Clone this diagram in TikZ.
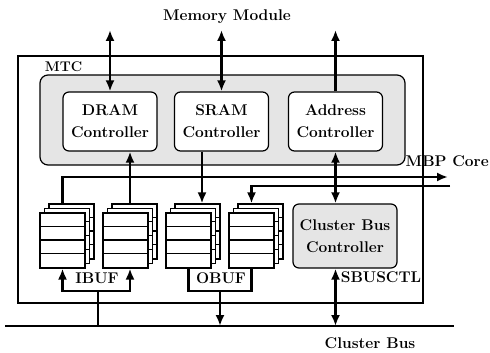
\documentclass[tikz,border=0pt]{standalone}
\usepackage{tikz}
\usetikzlibrary{positioning,arrows.meta}
\tikzstyle{ctrl}=[draw, rounded corners=6pt, line width=1.2pt, fill=white, minimum width=94pt, minimum height=59pt, inner sep=0pt, align=center, font=\fontsize{15.5}{22}\selectfont\bfseries]
\tikzstyle{lbl}=[inner sep=0pt, font=\fontsize{15.5}{18}\selectfont\bfseries]
\tikzstyle{buf}=[draw, line width=1.1pt, fill=white, minimum width=45pt, minimum height=55pt, inner sep=0pt]
\tikzstyle{bus}=[line width=2.6pt]
\newcommand{\ctrl}{\node[ctrl]}
\newcommand{\lbl}{\node[lbl]}
\newcommand{\bufstack}[3]{
	\foreach \k in {2,1,0}{
		\node[buf] (#1\k) at (#2+4.5*\k,#3-4.5*\k){};
		\foreach \r in {1,2,3}
			\draw[line width=1.1pt] ([yshift={-\r*13.75pt}]#1\k.north west) -- ([yshift={-\r*13.75pt}]#1\k.north east);
	}}

\begin{document}
\begin{tikzpicture}[x=1pt,y=-1pt,>={Latex[length=11pt,width=9pt]}]
\useasboundingbox (0,0) rectangle (490,353);
\node[draw, line width=1.2pt, minimum width=405pt, minimum height=247pt, inner sep=0pt] (mtc) at (220.5,179.5){};
\node[draw, rounded corners=8pt, line width=1.2pt, fill=gray!20, minimum width=365pt, minimum height=90pt, inner sep=0pt] (core) at (222.5,120){};
\ctrl (dram) at (110,121.5){DRAM\\Controller};
\ctrl (sram) at (221.5,121.5){SRAM\\Controller};
\ctrl (addr) at (335.5,121.5){Address\\Controller};
\ctrl[fill=gray!20, minimum width=104pt, minimum height=64pt] (cbc) at (345,236){Cluster Bus\\Controller};
\bufstack{ibA}{62.5}{240.5}
\bufstack{ibB}{125.5}{240.5}
\bufstack{obA}{188.5}{240.5}
\bufstack{obB}{251.5}{240.5}
\lbl (mm) at (227,17){Memory Module};
\lbl[font=\fontsize{14}{16}\selectfont\bfseries] (mtcl) at (63.5,67){MTC};
\lbl[anchor=east] (mbp) at (489,161){MBP Core};
\lbl (ibl) at (97,278){IBUF};
\lbl (obl) at (221,278){OBUF};
\lbl (sbl) at (381,277){SBUSCTL};
\lbl (cbl) at (370,343){Cluster Bus};
\coordinate (mmtop) at (227,30);
\coordinate (cbW) at (5,326);
\coordinate (cbE) at (454,326);
\coordinate (mbpout) at (448,177);
\coordinate (mbpin) at (450,186);
\coordinate (srx) at (202,0);
\coordinate (ibj) at (98,291);
\coordinate (obj) at (220,291);
\draw[bus] (cbW) -- (cbE);
\draw[bus,<->] (dram.north) -- (dram.north |- mmtop);
\draw[bus,<->] (sram.north) -- (sram.north |- mmtop);
\draw[bus,->] (addr.north) -- (addr.north |- mmtop);
\draw[bus,->] (ibA0 |- ibA2.north) |- (mbpout);
\draw[bus,->] (ibB1 |- ibB2.north) -- (ibB1 |- dram.south);
\draw[bus,->] (srx |- sram.south) -- (srx |- obA2.north);
\draw[bus,->] (mbpin) -| (obB0 |- obB2.north);
\draw[bus,<->] (addr.south) -- (addr.south |- cbc.north);
\draw[bus,<->] (addr.south |- cbc.south) -- (addr.south |- cbW);
\draw[bus,<->] (ibA0.south) |- (ibj) -| (ibB1 |- ibB0.south);
\draw[bus] (ibj) -- (ibj |- cbW);
\draw[bus] (obA0.south) |- (obj) -| (obB0.south);
\draw[bus,->] (obj) -- (obj |- cbW);
\end{tikzpicture}
\end{document}
